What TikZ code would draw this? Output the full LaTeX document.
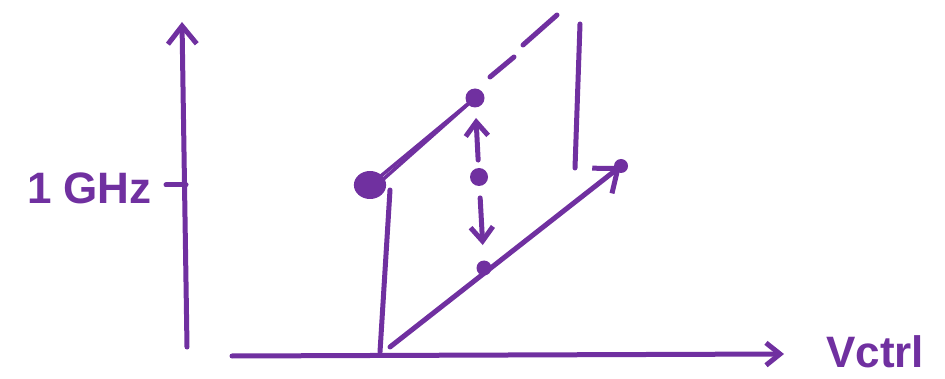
\documentclass[tikz,border=0pt]{standalone}
\usepackage{fontspec}
\setmainfont{Liberation Sans}
\usetikzlibrary{arrows.meta}
\definecolor{pen}{RGB}{112,48,160}
\begin{document}
\begin{tikzpicture}[x=1pt,y=-1pt, line cap=round, line join=round,
  stroke/.style={draw=pen, line width=5pt},
  arr/.style={stroke, -{Straight Barb[length=#1, width=1.6*#1, line width=5pt]}},
  arr/.default=14pt,
  dotnode/.style={circle, fill=pen, inner sep=0pt, minimum size=#1},
  lbl/.style={text=pen, font=\fontsize{44}{48}\selectfont\bfseries, inner sep=0pt}]
\useasboundingbox (0,0) rectangle (945,379);
% axes
\coordinate (yb) at (187,347);
\coordinate (yt) at (182,22);
\draw[arr=18pt] (yb) -- (yt);
\coordinate (tk) at (166,185);
\coordinate (tka) at (186,185);
\draw[stroke] (tk) -- (tka);
\node[lbl, anchor=east] (ghz) at (152,188) {1 GHz};
\coordinate (xl) at (232,356);
\coordinate (xr) at (784,354);
\draw[arr=14pt] (xl) -- (xr);
\node[lbl, anchor=west] (vc) at (826,352) {Vctrl};
% dots
\node[dotnode=28pt, xscale=1.15] (big) at (370,185) {};
\node[dotnode=19pt] (hi) at (475,98) {};
\node[dotnode=18pt] (mid) at (479,177) {};
\node[dotnode=15pt] (lo) at (484,268) {};
\node[dotnode=14pt] (tip) at (621,166) {};
% upper segment (double stroke)
\draw[stroke, line width=3.5pt] (big.center) -- (hi.center);
\draw[stroke, line width=3.5pt] ([yshift=-6pt]big.center) -- (hi.center);
% dashed continuation
\coordinate (d1a) at (490,77);
\coordinate (d1b) at (514,57);
\coordinate (d2a) at (523,45);
\coordinate (d2b) at (557,15);
\draw[stroke] (d1a) -- (d1b);
\draw[stroke] (d2a) -- (d2b);
% verticals
\coordinate (rt) at (580,24);
\coordinate (rb) at (575,168);
\draw[stroke] (rt) -- (rb);
\coordinate (lt) at (390,190);
\coordinate (lb) at (380,352);
\draw[stroke] (lt) -- (lb);
% lower diagonal
\coordinate (ls) at (390,347);
\draw[arr=20pt] (ls) -- (tip.center);
% vertical double arrow
\draw[arr=14pt, shorten <=17pt, shorten >=20pt] (mid.center) -- (hi.center);
\draw[arr=14pt, shorten <=21pt, shorten >=23pt] (mid.center) -- (lo.center);
\end{tikzpicture}
\end{document}
